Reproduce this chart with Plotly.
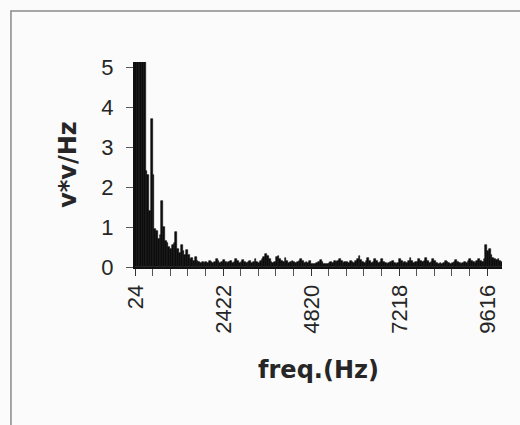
import plotly.graph_objects as go

# FFT bin width (Hz); each plotted bar groups two adjacent bins
bin_width_hz = 23.98
pair_width_hz = 2 * bin_width_hz
first_edge_hz = bin_width_hz / 2

# spectral power v*v/Hz, read per pair of bins
psd = [
    5.2, 5.2, 5.2, 5.2, 5.2, 5.2, 2.4, 2.3, 1.4, 3.7,
    2.3, 0.95, 0.9, 0.7, 0.8, 1.65, 1.0, 0.65, 0.6, 0.5,
    0.45, 0.55, 0.6, 0.87, 0.45, 0.35, 0.55, 0.4, 0.3, 0.42,
    0.3, 0.2, 0.22, 0.15, 0.25, 0.15, 0.12, 0.1, 0.12, 0.1,
    0.12, 0.1, 0.15, 0.12, 0.1, 0.12, 0.2, 0.14, 0.1, 0.12,
    0.18, 0.12, 0.1, 0.12, 0.14, 0.1, 0.12, 0.2, 0.15, 0.1,
    0.12, 0.18, 0.12, 0.1, 0.12, 0.14, 0.1, 0.12, 0.2, 0.12,
    0.1, 0.15, 0.2, 0.25, 0.32, 0.28, 0.2, 0.12, 0.1, 0.12,
    0.25, 0.27, 0.2, 0.14, 0.12, 0.22, 0.15, 0.1, 0.12, 0.14,
    0.12, 0.1, 0.12, 0.15, 0.2, 0.14, 0.1, 0.12, 0.1, 0.14,
    0.08, 0.07, 0.08, 0.1, 0.12, 0.18, 0.12, 0.08, 0.07, 0.08,
    0.1, 0.12, 0.1, 0.14, 0.12, 0.15, 0.2, 0.14, 0.1, 0.12,
    0.12, 0.1, 0.14, 0.12, 0.1, 0.15, 0.2, 0.28, 0.18, 0.12,
    0.1, 0.14, 0.22, 0.15, 0.1, 0.12, 0.2, 0.14, 0.1, 0.12,
    0.2, 0.12, 0.1, 0.08, 0.1, 0.12, 0.15, 0.1, 0.08, 0.1,
    0.2, 0.14, 0.1, 0.12, 0.1, 0.14, 0.22, 0.15, 0.1, 0.12,
    0.12, 0.2, 0.14, 0.12, 0.15, 0.22, 0.14, 0.1, 0.12, 0.2,
    0.14, 0.1, 0.08, 0.1, 0.08, 0.1, 0.15, 0.12, 0.1, 0.08,
    0.1, 0.12, 0.18, 0.12, 0.1, 0.08, 0.1, 0.12, 0.1, 0.14,
    0.2, 0.14, 0.12, 0.1, 0.14, 0.2, 0.14, 0.12, 0.2, 0.55,
    0.4, 0.45, 0.3, 0.22, 0.2, 0.18, 0.2, 0.15, 0.12,
]
freq_hz = [first_edge_hz + pair_width_hz * (i + 0.5) for i in range(len(psd))]

x_tick_vals = [24, 2422, 4820, 7218, 9616]
x_tick_text = ["24", "2422", "4820", "7218", "9616"]
y_tick_vals = [0, 1, 2, 3, 4, 5]
y_tick_text = ["0", "1", "2", "3", "4", "5"]

fig = go.Figure()
fig.add_trace(go.Bar(
    x=freq_hz, y=psd, width=pair_width_hz,
    marker=dict(color="#0d0d0d", line=dict(color="#0d0d0d", width=0.6)),
    hoverinfo="x+y",
))

tick_font = dict(family="Liberation Sans, Arial, sans-serif", size=22, color="#262626")
title_font = dict(family="DejaVu Sans, sans-serif", size=24, color="#262626")

fig.update_layout(
    width=520, height=425,
    margin=dict(l=135, r=18, t=62, b=158),
    paper_bgcolor="#fbfbfb", plot_bgcolor="#fbfbfb",
    bargap=0, showlegend=False,
    xaxis=dict(
        range=[first_edge_hz, 10012], tickvals=x_tick_vals, ticktext=x_tick_text,
        tickangle=-90, tickfont=tick_font, ticks="outside", ticklen=7,
        tickcolor="#333333", tickwidth=1, showline=True, linecolor="#111111",
        linewidth=2, showgrid=False, zeroline=False,
        minor=dict(tick0=first_edge_hz, dtick=20 * bin_width_hz, ticks="outside",
                   ticklen=7, tickcolor="#555555", tickwidth=1, showgrid=False),
        title=dict(text="<b>freq.(Hz)</b>", font=title_font, standoff=28),
    ),
    yaxis=dict(
        range=[0, 5.125], tickvals=y_tick_vals, ticktext=y_tick_text,
        tickfont=tick_font, ticks="outside", ticklen=7, tickcolor="#555555",
        tickwidth=1, showline=True, linecolor="#111111", linewidth=2,
        showgrid=False, zeroline=False, ticklabelstandoff=8,
        title=dict(text="<b>v*v/Hz</b>", font=title_font, standoff=18),
    ),
    shapes=[dict(type="rect", xref="paper", yref="paper",
                 x0=-0.338, x1=2.0, y0=-2.0, y1=1.249,
                 line=dict(color="#8a8a8a", width=1.5), fillcolor="rgba(0,0,0,0)",
                 layer="below")],
)

fig.write_html("out.html")
